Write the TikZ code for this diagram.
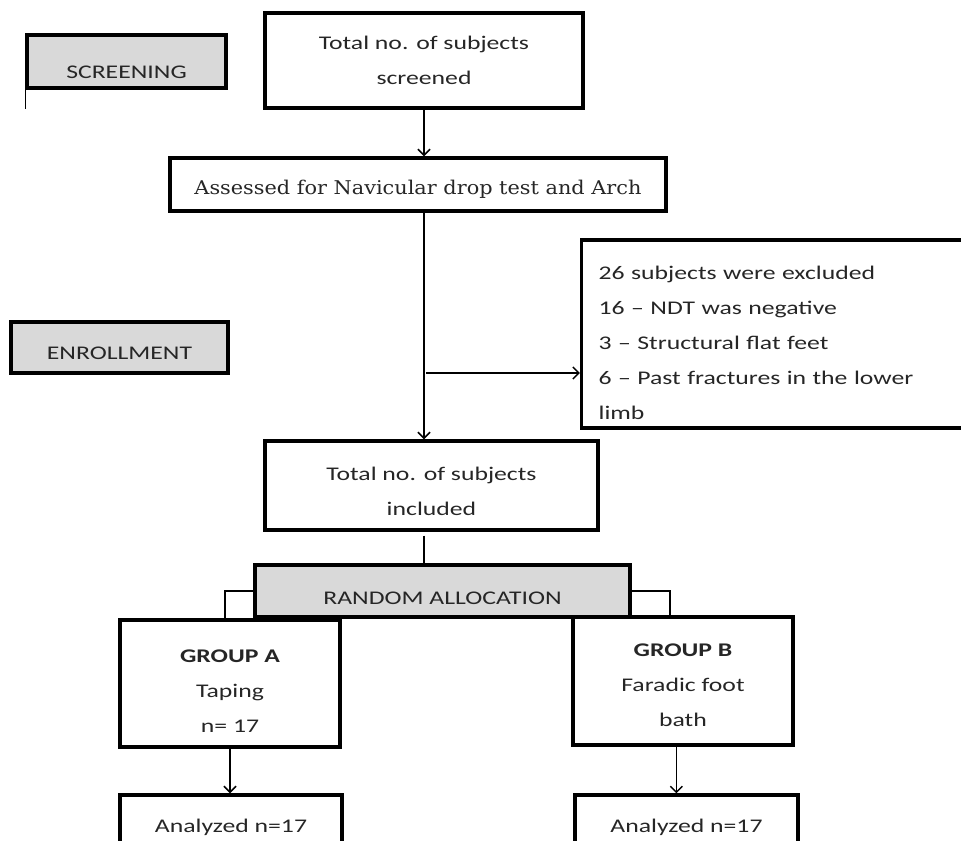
\documentclass[tikz,border=0pt]{standalone}
\usepackage{fontspec}
\setmainfont{Carlito}[FakeStretch=1.33]
\newfontfamily\serifbox{DejaVu Serif}[FakeStretch=1.1]
\usetikzlibrary{arrows.meta}
\definecolor{boxgray}{HTML}{D9D9D9}
\definecolor{inkgray}{HTML}{262626}
% taller first line, so that the text sits lower in its box
\newcommand\lowerby[1]{\rule{0pt}{\dimexpr 11pt+2\dimexpr #1\relax\relax}}

\begin{document}
\begin{tikzpicture}[x=0.75pt,y=-0.75pt,
  box/.style 2 args={draw,line width=2.6pt,minimum width=#1,minimum height=#2,
    inner sep=0pt,align=center,text=inkgray,
    font=\fontsize{14.5pt}{26.25pt}\selectfont},
  graybox/.style 2 args={box={#1}{#2},fill=boxgray},
  link/.style={line width=1.1pt},
  arr/.style={link,-{Straight Barb[length=4.5pt,width=9pt]}}]
\useasboundingbox (0,0) rectangle (961,841);
\clip (0,0) rectangle (961,841);

% stage labels
\node[graybox={149.25pt}{39.75pt}] (screening) at (126.5,61.5) {\lowerby{7.5pt}SCREENING};
\node[graybox={162.75pt}{38.25pt}] (enrollment) at (119.5,347.5) {\lowerby{3.75pt}ENROLLMENT};
\draw[link] (screening.south west) -- ++(0,19);

% main column
\node[box={238.5pt}{71.25pt}] (screened) at (424,60.5) {Total no. of subjects\\ screened};
\node[box={372pt}{39.75pt},font=\serifbox\fontsize{14.2pt}{26.25pt}\selectfont] (assessed) at (418,184.5)
  {\lowerby{3.5pt}Assessed for Navicular drop test and Arch};
\node[box={291pt}{141pt},align=left,text width=266pt,inner xsep=12.75pt] (excluded) at (776,334)
  {\lowerby{6pt}26 subjects were excluded\\ 16 – NDT was negative\\ 3 – Structural flat feet\\
   6 – Past fractures in the lower\\ limb};
\node[box={249.75pt}{66.75pt}] (included) at (431.5,485.5) {\lowerby{3.75pt}Total no. of subjects\\ included};
\node[graybox={281.25pt}{39pt}] (random) at (442.5,591) {\lowerby{5pt}RANDOM ALLOCATION};

% groups
\node[box={165pt}{95.25pt}] (groupA) at (230,683.5) {\lowerby{5.25pt}\textbf{GROUP A}\\ Taping\\ n= 17};
\node[box={165pt}{96pt}] (groupB) at (683,681) {\lowerby{2.25pt}\textbf{GROUP B}\\ Faradic foot\\ bath};
\node[box={166.5pt}{48pt}] (analyzedA) at (231,827) {Analyzed n=17};
\node[box={167.25pt}{48pt}] (analyzedB) at (686.5,827) {Analyzed n=17};

% connectors
\coordinate (split) at (426,373);
\draw[arr] (screened.south) -- (screened.south |- assessed.north);
\draw[arr] (screened.south |- assessed.south) -- (screened.south |- included.north);
\draw[arr] (split) -- (split -| excluded.west);
\draw[link,shorten <=3pt] (screened.south |- included.south) -- (screened.south |- random.north);
\draw[link] (random.west) -| ([xshift=-3.75pt]groupA.north);
\draw[link] (random.east) -| ([xshift=-9.75pt]groupB.north);
\draw[arr] (groupA.south) -- (groupA.south |- analyzedA.north);
\draw[arr] ([xshift=-5pt]groupB.south) -- ([xshift=-5pt]groupB.south |- analyzedB.north);
\end{tikzpicture}
\end{document}
